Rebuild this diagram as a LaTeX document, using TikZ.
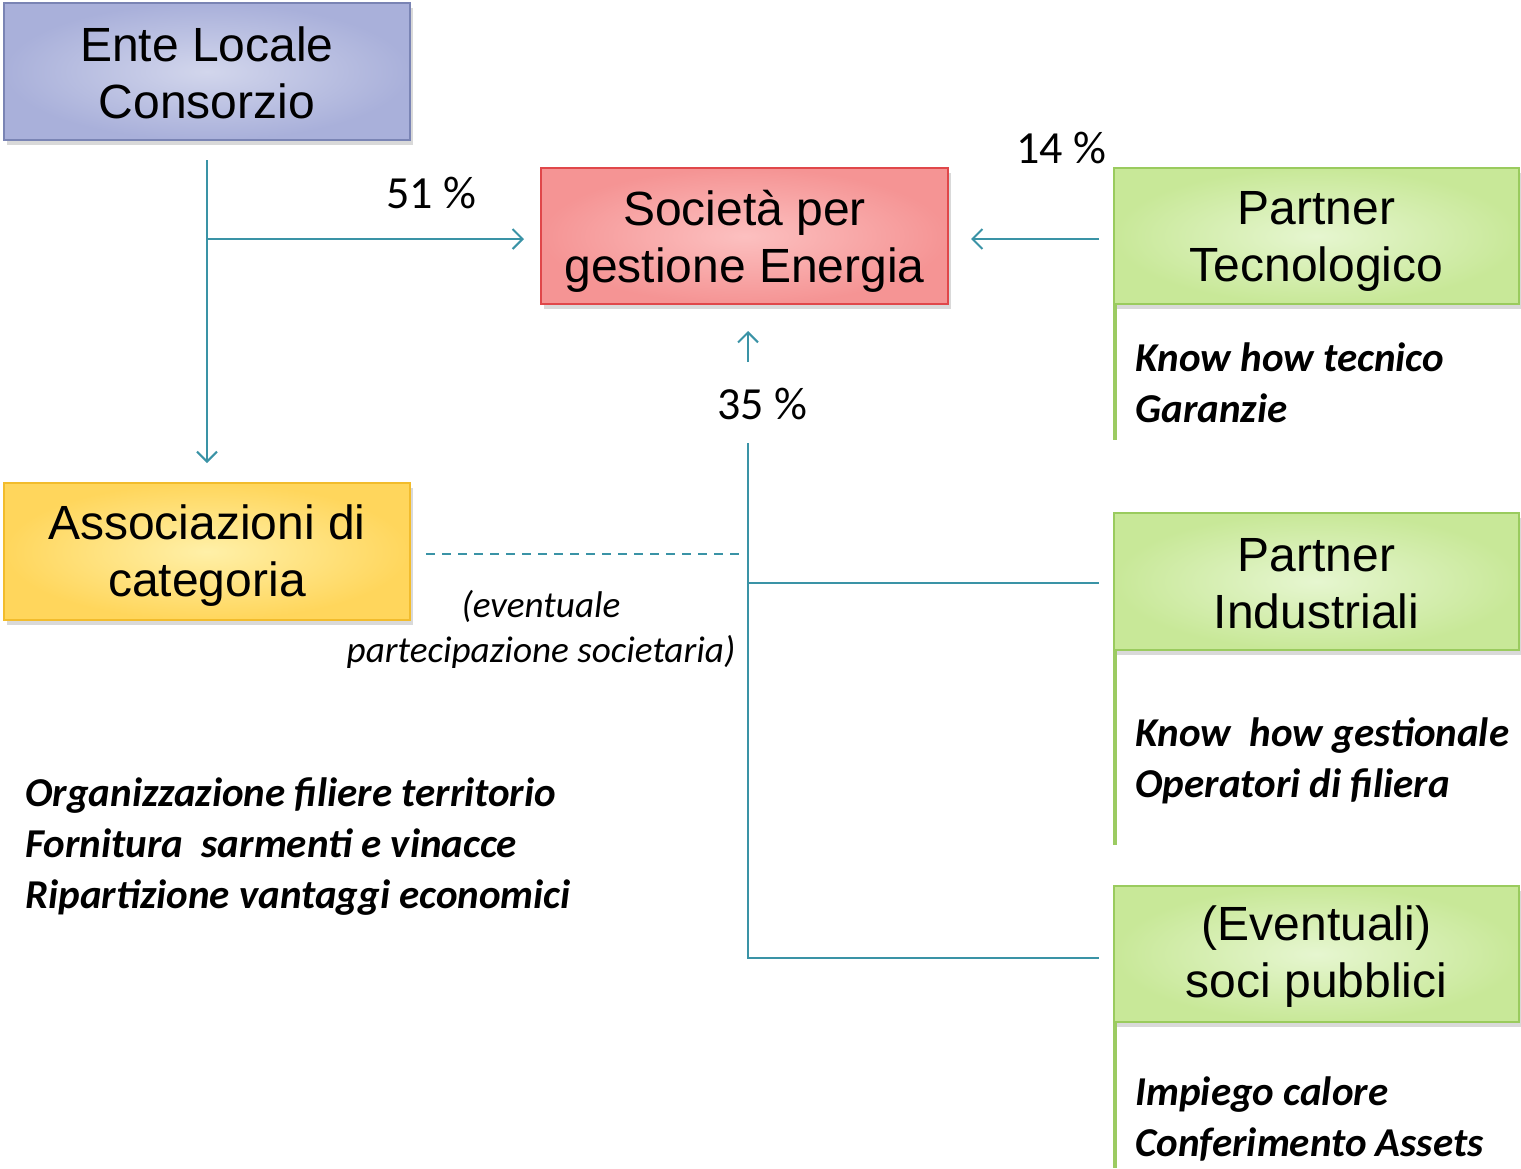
\documentclass[tikz,border=0pt]{standalone}
\usepackage{fontspec}
\setmainfont{Liberation Sans}
\newfontfamily\calfont{Carlito}
\usetikzlibrary{shadows,arrows.meta}
\definecolor{conn}{HTML}{3A93A6}
\definecolor{greenline}{HTML}{9CCB62}
\definecolor{blueborder}{HTML}{7A84B4}
\definecolor{bluein}{HTML}{D2D6EC}
\definecolor{blueout}{HTML}{A9B0DA}
\definecolor{redin}{HTML}{FCC0C0}
\definecolor{redout}{HTML}{F59494}
\definecolor{redborder}{HTML}{E0474A}
\definecolor{greenin}{HTML}{E6F6D0}
\definecolor{greenout}{HTML}{C8E898}
\definecolor{greenborder}{HTML}{9ACB5E}
\definecolor{yelin}{HTML}{FFF0A8}
\definecolor{yelout}{HTML}{FFD65C}
\definecolor{yelborder}{HTML}{F2BC2C}
\tikzset{
  box/.style={draw, line width=1.3pt, inner sep=0pt,
    drop shadow={shadow xshift=1.5pt, shadow yshift=-2.5pt, opacity=0.3, fill=black!50}},
  boxtext/.style={inner sep=0pt, align=center, font=\fontsize{24}{28.5}\selectfont},
  conline/.style={draw=conn, line width=1pt},
  conarrow/.style={conline, -{Straight Barb[length=5pt,width=10pt,line width=1pt]}},
  pct/.style={font=\calfont\fontsize{23}{26}\selectfont, inner sep=0pt},
  note/.style={font=\calfont\itshape\bfseries\fontsize{20.5}{25.5}\selectfont, align=left, inner sep=0pt, anchor=north west},
  sideline/.style={draw=greenline, line width=1.6pt},
}
\begin{document}
\begin{tikzpicture}[x=0.5pt,y=-0.5pt]
\useasboundingbox (0,0) rectangle (1521,1168);
% boxes
\node[box, minimum width=203pt, minimum height=68.5pt, draw=blueborder,
  shading=radial, inner color=bluein, outer color=blueout] (ente) at (207,71.5) {};
\node[boxtext] (entetext) at ([yshift=-0.5pt]ente.center) {Ente Locale\\Consorzio};
\node[box, minimum width=203.5pt, minimum height=68pt, draw=redborder,
  shading=radial, inner color=redin, outer color=redout] (soc) at (744.5,236) {};
\node[boxtext] (soctext) at ([yshift=-2.5pt]soc.center) {Società per\\gestione Energia};
\node[box, minimum width=203pt, minimum height=68.5pt, draw=yelborder,
  shading=radial, inner color=yelin, outer color=yelout] (assoc) at (207,551.5) {};
\node[boxtext] (assoctext) at ([yshift=-2pt]assoc.center) {Associazioni di\\categoria};
% side lines
\coordinate (pts1) at (1115,258); \coordinate (pts2) at (1115,440);
\coordinate (pis1) at (1115,600); \coordinate (pis2) at (1115,845);
\coordinate (evs1) at (1115,970); \coordinate (evs2) at (1115,1168);
\draw[sideline] (pts1) -- (pts2);
\draw[sideline] (pis1) -- (pis2);
\draw[sideline] (evs1) -- (evs2);
\node[box, minimum width=202.5pt, minimum height=68pt, draw=greenborder,
  shading=radial, inner color=greenin, outer color=greenout] (pt) at (1316.5,236) {};
\node[boxtext] (pttext) at ([yshift=-2.5pt]pt.center) {Partner\\Tecnologico};
\node[box, minimum width=202.5pt, minimum height=68.5pt, draw=greenborder,
  shading=radial, inner color=greenin, outer color=greenout] (pi) at (1316.5,581.5) {};
\node[boxtext] (pitext) at ([yshift=-1pt]pi.center) {Partner\\Industriali};
\node[box, minimum width=202.5pt, minimum height=68pt, draw=greenborder,
  shading=radial, inner color=greenin, outer color=greenout] (ev) at (1316.5,954) {};
\node[boxtext] (evtext) at ([yshift=-1.5pt]ev.center) {(Eventuali)\\soci pubblici};
% connector points
\coordinate (entebot) at (207,160);
\coordinate (j1) at (207,239);
\coordinate (assoctop) at (207,463);
\coordinate (socleft) at (524,239);
\coordinate (socright) at (971,239);
\coordinate (ptleft) at (1099,239);
\coordinate (socbot) at (748,331);
\coordinate (up35) at (748,362);
\coordinate (low35) at (748,443);
\coordinate (j2) at (748,583);
\coordinate (j3) at (748,958);
\coordinate (pileft) at (1099,583);
\coordinate (evleft) at (1099,958);
\coordinate (dash1) at (426,554);
\coordinate (dash2) at (742,554);
\draw[conarrow] (entebot) -- (assoctop);
\draw[conarrow] (j1) -- (socleft);
\draw[conarrow] (ptleft) -- (socright);
\draw[conarrow] (up35) -- (socbot);
\draw[conline] (low35) -- (j3) -- (evleft);
\draw[conline] (j2) -- (pileft);
\draw[draw=conn, line width=1pt, dash pattern=on 4.5pt off 3.5pt] (dash1) -- (dash2);
% percentages
\node[pct] (p51) at (431,193) {51 \%};
\node[pct] (p14) at (1061,148) {14 \%};
\node[pct] (p35) at (762,404) {35 \%};
% eventual note
\node[font=\calfont\itshape\fontsize{18.6}{22.5}\selectfont, align=center, inner sep=0pt] (evnote) at (541,629) {(eventuale\\partecipazione societaria)};
% notes
\node[note] (n1) at (25,777) {Organizzazione filiere territorio\\Fornitura\ \ sarmenti e vinacce\\Ripartizione vantaggi economici};
\node[note] (n2) at (1135,342) {Know how tecnico\\Garanzie};
\node[note] (n3) at (1135,717) {Know\ \ how gestionale\\Operatori di filiera};
\node[note] (n4) at (1135,1076) {Impiego calore\\Conferimento Assets};
\end{tikzpicture}
\end{document}
